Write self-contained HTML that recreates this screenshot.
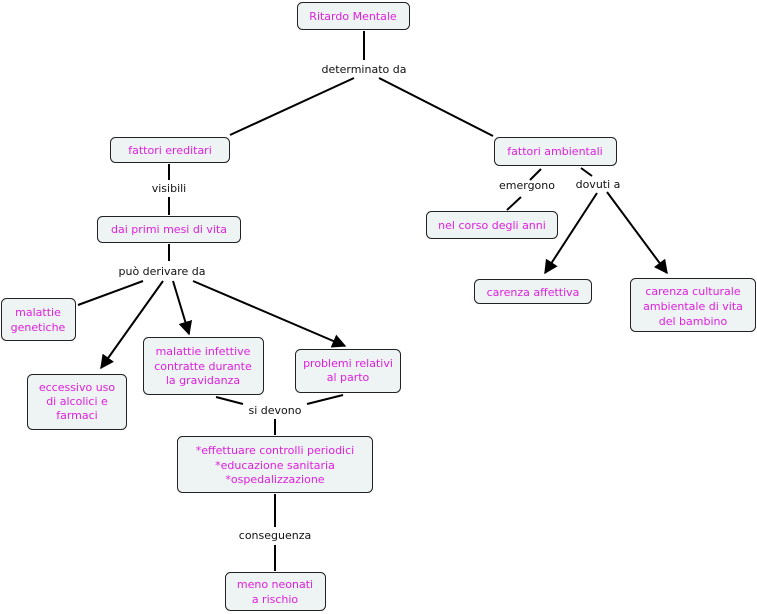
<!DOCTYPE html>
<html><head><meta charset="utf-8"><style>
body{margin:0;background:#fff}
svg{display:block}
.b{fill:#eef3f3;stroke:#222;stroke-width:1}
.t{font-family:"DejaVu Sans",Verdana,sans-serif;font-size:11px;fill:#e020e0;text-anchor:middle}
.l{font-family:"DejaVu Sans",Verdana,sans-serif;font-size:11px;fill:#111;text-anchor:middle}
.c{stroke:#000;stroke-width:2;fill:none}
</style></head><body>
<svg width="757" height="614" viewBox="0 0 757 614">
<defs><marker id="a" markerWidth="10" markerHeight="10" refX="8" refY="5" orient="auto" markerUnits="userSpaceOnUse"><path d="M0,0 L10,5 L0,10 z" fill="#000"/></marker>
<marker id="A" viewBox="0 0 10 10" markerWidth="14" markerHeight="14" refX="9" refY="5" orient="auto" markerUnits="userSpaceOnUse"><path d="M0,0 L10,5 L0,10 z" fill="#000"/></marker></defs>
<g class="c">
<line x1="364" y1="31" x2="364" y2="60"/>
<line x1="354" y1="78" x2="230" y2="135"/>
<line x1="379" y1="78" x2="493" y2="136"/>
<line x1="169" y1="164" x2="169" y2="180"/>
<line x1="169" y1="197" x2="169" y2="215"/>
<line x1="169" y1="244" x2="169" y2="261"/>
<line x1="143" y1="281" x2="78" y2="305"/>
<line x1="163" y1="281" x2="101" y2="368" marker-end="url(#A)"/>
<line x1="173" y1="281" x2="189" y2="334" marker-end="url(#A)"/>
<line x1="193" y1="281" x2="345" y2="346" marker-end="url(#A)"/>
<line x1="216" y1="397" x2="243" y2="404"/>
<line x1="307" y1="404" x2="343" y2="395"/>
<line x1="275" y1="419" x2="275" y2="435"/>
<line x1="275" y1="494" x2="275" y2="527"/>
<line x1="275" y1="545" x2="275" y2="571"/>
<line x1="541" y1="169" x2="530" y2="180"/>
<line x1="521" y1="197" x2="507" y2="210"/>
<line x1="581" y1="168" x2="592" y2="176"/>
<line x1="597" y1="193" x2="545" y2="273" marker-end="url(#A)"/>
<line x1="607" y1="192" x2="667" y2="273" marker-end="url(#A)"/>
</g>
<rect class="b" x="297.5" y="2.5" width="112" height="27" rx="5"/>
<text class="t" x="353" y="20">Ritardo Mentale</text>
<text class="l" x="364" y="73">determinato da</text>
<rect class="b" x="110.5" y="137.5" width="119" height="25" rx="5"/>
<text class="t" x="170" y="154">fattori ereditari</text>
<rect class="b" x="494.5" y="137.5" width="122" height="28" rx="5"/>
<text class="t" x="555" y="155">fattori ambientali</text>
<text class="l" x="169" y="192">visibili</text>
<rect class="b" x="97.5" y="216.5" width="143" height="26" rx="5"/>
<text class="t" x="169" y="233">dai primi mesi di vita</text>
<text class="l" x="162" y="275">può derivare da</text>
<rect class="b" x="1.5" y="298.5" width="74" height="42" rx="5"/>
<text class="t" x="38" y="316">malattie</text><text class="t" x="38" y="331">genetiche</text>
<rect class="b" x="27.5" y="374.5" width="99" height="55" rx="5"/>
<text class="t" x="77" y="391">eccessivo uso</text><text class="t" x="77" y="405">di alcolici e</text><text class="t" x="77" y="419">farmaci</text>
<rect class="b" x="143.5" y="337.5" width="120" height="57" rx="5"/>
<text class="t" x="203" y="355">malattie infettive</text><text class="t" x="203" y="370">contratte durante</text><text class="t" x="203" y="384">la gravidanza</text>
<rect class="b" x="295.5" y="349.5" width="105" height="43" rx="5"/>
<text class="t" x="348" y="367">problemi relativi</text><text class="t" x="348" y="381">al parto</text>
<text class="l" x="275" y="414">si devono</text>
<rect class="b" x="177.5" y="436.5" width="195" height="56" rx="5"/>
<text class="t" x="275" y="454">*effettuare controlli periodici</text><text class="t" x="275" y="469">*educazione sanitaria</text><text class="t" x="275" y="483">*ospedalizzazione</text>
<text class="l" x="275" y="539">conseguenza</text>
<rect class="b" x="225.5" y="572.5" width="100" height="38" rx="5"/>
<text class="t" x="275" y="588">meno neonati</text><text class="t" x="275" y="603">a rischio</text>
<text class="l" x="527" y="189">emergono</text>
<text class="l" x="598" y="188">dovuti a</text>
<rect class="b" x="426.5" y="211.5" width="131" height="27" rx="5"/>
<text class="t" x="492" y="229">nel corso degli anni</text>
<rect class="b" x="474.5" y="279.5" width="117" height="24" rx="5"/>
<text class="t" x="533" y="296">carenza affettiva</text>
<rect class="b" x="630.5" y="278.5" width="125" height="53" rx="5"/>
<text class="t" x="693" y="295">carenza culturale</text><text class="t" x="693" y="310">ambientale di vita</text><text class="t" x="693" y="325">del bambino</text>
</svg>
</body></html>
